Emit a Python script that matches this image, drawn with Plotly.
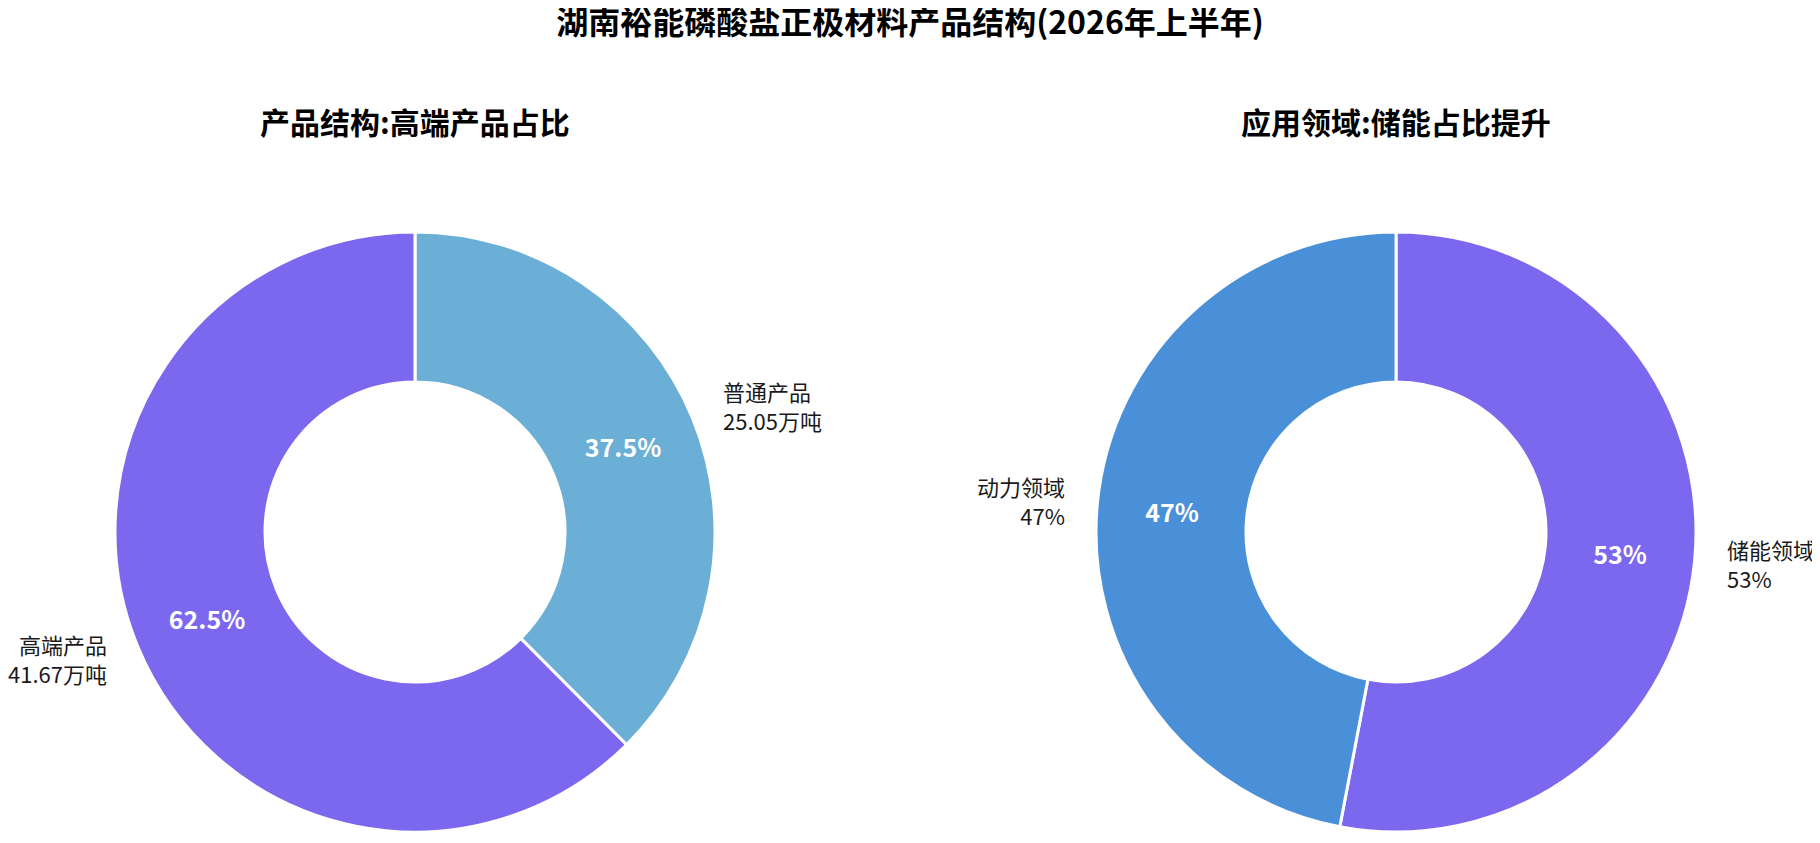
import math
import plotly.graph_objects as go

W, H = 1820, 843

main_title = "湖南裕能磷酸盐正极材料产品结构(2026年上半年)"
left_title = "产品结构:高端产品占比"
right_title = "应用领域:储能占比提升"

product_labels = ["普通产品", "高端产品"]
product_values = [25.05, 41.67]
product_colors = ["#6BAED6", "#7B68EE"]

app_labels = ["储能领域", "动力领域"]
app_values = [53, 47]
app_colors = ["#7B68EE", "#4A90D9"]

FONT = "Noto Sans CJK SC, Microsoft YaHei, sans-serif"

# layout geometry in figure pixels (page body adds an 8px offset)
R_PX = 300
CY_TOP = 524          # pie centre, px from top of figure
CX_LEFT = 407
CX_RIGHT = 1388


def make_domain(cx):
    cy_b = H - CY_TOP
    return dict(x=[(cx - R_PX - 20) / W, (cx + R_PX + 20) / W],
                y=[(cy_b - R_PX) / H, (cy_b + R_PX) / H])


left_dom = make_domain(CX_LEFT)
right_dom = make_domain(CX_RIGHT)

fig = go.Figure()


def add_pie(labels, values, colors, dom):
    fig.add_trace(go.Pie(
        labels=labels, values=values, domain=dom,
        hole=0.5, sort=False, direction="clockwise", rotation=0,
        marker=dict(colors=colors, line=dict(color="white", width=3)),
        textinfo="percent", textposition="inside",
        insidetextorientation="horizontal",
        textfont=dict(family=FONT, size=25, color="white", weight="bold"),
        hoverinfo="label+value+percent", showlegend=False,
    ))


add_pie(product_labels, product_values, product_colors, left_dom)
add_pie(app_labels, app_values, app_colors, right_dom)


def outside_labels(labels, values, texts, dom):
    cx = (dom["x"][0] + dom["x"][1]) / 2
    cy = (dom["y"][0] + dom["y"][1]) / 2
    r_px = min((dom["x"][1] - dom["x"][0]) * W, (dom["y"][1] - dom["y"][0]) * H) / 2
    r_lab = r_px * 1.103
    total = sum(values)
    cum = 0.0
    anns = []
    for lab, v, t in zip(labels, values, texts):
        mid = (cum + v / 2) / total * 2 * math.pi
        cum += v
        dx = r_lab * math.sin(mid)
        dy = r_lab * math.cos(mid)
        right = dx >= 0
        anns.append(dict(
            x=cx + dx / W, y=cy + dy / H, xref="paper", yref="paper",
            text=t, showarrow=False,
            xanchor="left" if right else "right", yanchor="middle",
            align="left" if right else "right",
            font=dict(family=FONT, size=22, color="#1a1a1a"),
        ))
    return anns


anns = []
anns += outside_labels(product_labels, product_values,
                       [f"{l}<br>{v:.2f}万吨" for l, v in zip(product_labels, product_values)],
                       left_dom)
anns += outside_labels(app_labels, app_values,
                       [f"{l}<br>{v}%" for l, v in zip(app_labels, app_values)],
                       right_dom)

for dom, txt in [(left_dom, left_title), (right_dom, right_title)]:
    anns.append(dict(
        x=(dom["x"][0] + dom["x"][1]) / 2, y=1 - 113 / H, xref="paper", yref="paper",
        text=txt, showarrow=False, xanchor="center", yanchor="middle",
        font=dict(family=FONT, size=30, color="#000000", weight="bold"),
    ))

fig.update_layout(
    width=W, height=H,
    margin=dict(l=0, r=0, t=0, b=0),
    paper_bgcolor="white", plot_bgcolor="white",
    title=dict(text=main_title, x=(910 - 8) / W, xanchor="center", y=1 - 15 / H, yanchor="middle",
               font=dict(family=FONT, size=32, color="#000000", weight="bold")),
    annotations=anns,
    showlegend=False,
)

fig.write_html("out.html")
